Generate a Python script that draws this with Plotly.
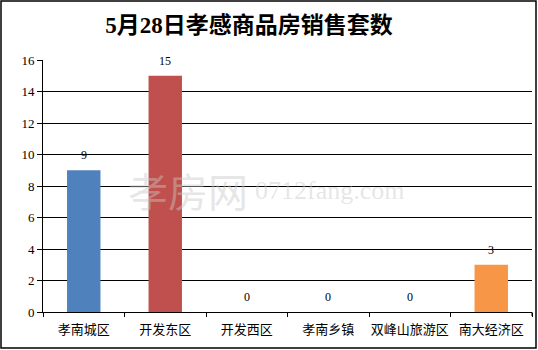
import plotly.graph_objects as go

categories = ["孝南城区", "开发东区", "开发西区", "孝南乡镇", "双峰山旅游区", "南大经济区"]
values = [9, 15, 0, 0, 0, 3]
colors = ["#4F81BD", "#C0504D", "#4F81BD", "#4F81BD", "#4F81BD", "#F79646"]
title = "<b>5月28日孝感商品房销售套数</b>"
yticks = [0, 2, 4, 6, 8, 10, 12, 14, 16]

W, H = 538, 350
L, R, T, B = 43, 6, 60, 38
pw, ph = W - L - R, H - T - B

fig = go.Figure(go.Bar(
    x=categories, y=values, marker_color=colors, marker_line_width=0,
    cliponaxis=False, width=0.41,
))
for c, v in zip(categories, values):
    fig.add_annotation(x=c, y=v, text=str(v), showarrow=False, yanchor="bottom", yshift=6,
                       font=dict(family="Liberation Serif", size=12, color="black"))

fig.update_layout(
    width=W, height=H, margin=dict(l=L, r=R, t=T, b=B, autoexpand=False),
    paper_bgcolor="white", plot_bgcolor="white", showlegend=False,
    title=dict(text=title, x=249 / W, xanchor="center", y=1 - 25 / H, yanchor="middle",
               font=dict(family="Liberation Serif, Noto Sans CJK SC", size=23, color="black")),
    font=dict(family="Noto Sans CJK SC", color="black"),
)
fig.update_yaxes(range=[0, 16], tickvals=yticks, showgrid=True, gridcolor="black", gridwidth=1,
                 showline=True, linecolor="black", linewidth=1, ticks="outside", ticklen=5,
                 tickcolor="black", zeroline=False, automargin=False,
                 tickfont=dict(family="Liberation Serif", size=13, color="black"))
fig.update_xaxes(showline=True, linecolor="black", linewidth=1, ticks="outside", ticklen=4,
                 tickcolor="black", tickson="boundaries", mirror=False, ticklabelstandoff=5,
                 tickangle=0, automargin=False,
                 tickfont=dict(family="Noto Sans CJK SC", size=13, color="black"))

# right end tick line
fig.add_shape(type="line", xref="paper", yref="paper", x0=1, x1=1, y0=0, y1=-4 / ph,
              line=dict(color="black", width=1))
# outer border
fig.add_shape(type="rect", xref="paper", yref="paper",
              x0=-(L - 1) / pw, x1=1 + (R - 2) / pw, y0=-(B - 2) / ph, y1=1 + (T - 1) / ph,
              line=dict(color="black", width=1.5), fillcolor="rgba(0,0,0,0)", layer="above")

# watermark
fig.add_annotation(xref="paper", yref="paper", x=(126 - L) / pw, y=(312 - 190) / ph,
                   xanchor="left", yanchor="middle", showarrow=False,
                   text="孝房网", font=dict(family="Noto Sans CJK SC", size=40, color="rgba(200,200,200,0.45)"))
fig.add_annotation(xref="paper", yref="paper", x=(253 - L) / pw, y=(312 - 191) / ph,
                   xanchor="left", yanchor="middle", showarrow=False,
                   text="0712fang.com", font=dict(family="Liberation Serif", size=26, color="rgba(200,200,200,0.45)"))

fig.write_html("out.html")
